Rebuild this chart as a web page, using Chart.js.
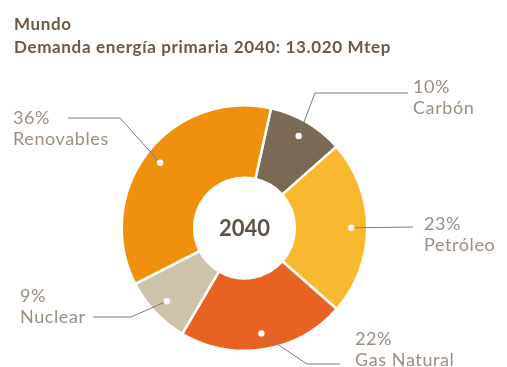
<!DOCTYPE html>
<html>
<head>
<meta charset="utf-8">
<script src="https://cdn.jsdelivr.net/npm/chart.js@4/dist/chart.umd.min.js"></script>
<style>
  html, body { margin: 0; padding: 0; background: #fff; }
  #wrap { position: relative; width: 507px; height: 367px; }
  #grafico { position: absolute; left: 0; top: 0; }
  .titulo { position: absolute; left: 14px; font-family: Lato, sans-serif; font-weight: bold; font-size: 17px; letter-spacing: 0.65px; color: #6b5a45; white-space: nowrap; line-height: 20px; }
</style>
</head>
<body>
<div id="wrap">
  <canvas id="grafico" width="507" height="367"></canvas>
  <div class="titulo" style="top:14px">Mundo</div>
  <div class="titulo" style="top:37px">Demanda energía primaria 2040: 13.020 Mtep</div>
</div>
<script>
const categorias = ['Carbón', 'Petróleo', 'Gas Natural', 'Nuclear', 'Renovables'];
const valores = [10, 23, 22, 9, 36];
const cores = ['#7a6a55', '#f8b931', '#e86224', '#cfc2ab', '#f0900f'];
const anoCentro = '2040';

// onde vai cada rótulo: cotovelo da linha, fim da linha, posição do texto
const rotulos = [
  { cotovelo: [315, 93], fim: [408, 93], x: 413, y: 93 },
  { cotovelo: [413, 227], fim: [413, 227], x: 424, y: 230 },
  { cotovelo: [307, 364], fim: [340, 364], x: 355, y: 345 },
  { cotovelo: [131, 317], fim: [93, 317], x: 20, y: 302 },
  { cotovelo: [120, 118], fim: [68, 118], x: 13, y: 124 }
];

const pluginRotulos = {
  id: 'rotulos',
  afterDraw(chart) {
    const ctx = chart.ctx;
    const arcos = chart.getDatasetMeta(0).data;
    ctx.save();
    arcos.forEach((arco, i) => {
      const r = rotulos[i];
      const meio = (arco.startAngle + arco.endAngle) / 2;
      const raio = arco.outerRadius - 16;
      const px = arco.x + Math.cos(meio) * raio;
      const py = arco.y + Math.sin(meio) * raio;
      ctx.strokeStyle = '#7b7b7b';
      ctx.lineWidth = 1;
      ctx.beginPath();
      ctx.moveTo(px, py);
      ctx.lineTo(r.cotovelo[0], r.cotovelo[1]);
      ctx.lineTo(r.fim[0], r.fim[1]);
      ctx.stroke();
      ctx.fillStyle = '#fff';
      ctx.beginPath();
      ctx.arc(px, py, 3.2, 0, Math.PI * 2);
      ctx.fill();
      ctx.fillStyle = '#9b8f7f';
      ctx.font = '18px Lato, sans-serif';
      ctx.letterSpacing = '0.6px';
      ctx.textAlign = 'left';
      ctx.textBaseline = 'alphabetic';
      ctx.fillText(valores[i] + '%', r.x, r.y);
      ctx.fillText(categorias[i], r.x, r.y + 21);
    });
    const a0 = arcos[0];
    ctx.fillStyle = '#5d5142';
    ctx.letterSpacing = '0px';
    ctx.font = 'bold 22px Lato, sans-serif';
    ctx.textAlign = 'center';
    ctx.textBaseline = 'middle';
    ctx.fillText(anoCentro, a0.x, a0.y + 1);
    ctx.restore();
  }
};

new Chart(document.getElementById('grafico'), {
  type: 'doughnut',
  data: {
    labels: categorias,
    datasets: [{
      data: valores,
      backgroundColor: cores,
      borderColor: '#fff',
      borderWidth: 2.5,
      hoverOffset: 0
    }]
  },
  options: {
    responsive: false,
    animation: false,
    rotation: 12.5,
    cutout: '41%',
    layout: { padding: { left: 120.5, right: 138.5, top: 104, bottom: 15 } },
    plugins: { legend: { display: false }, tooltip: { enabled: false } }
  },
  plugins: [pluginRotulos]
});
</script>
</body>
</html>
